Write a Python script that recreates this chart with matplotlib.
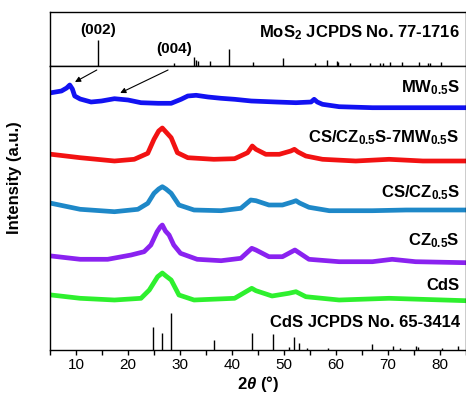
import numpy as np
import matplotlib
matplotlib.use("Agg")
from matplotlib import pyplot as plt
from matplotlib.ticker import MultipleLocator

plt.rcParams['font.family'] = ['Liberation Sans', 'DejaVu Sans']
plt.rcParams['mathtext.fontset'] = 'custom'
plt.rcParams['mathtext.rm'] = 'Liberation Sans:bold'
plt.rcParams['mathtext.bf'] = 'Liberation Sans:bold'
plt.rcParams['mathtext.it'] = 'Liberation Sans:bold:italic'

# XRD patterns (2theta in deg, stacked intensity in a.u.)
mw_x = [5.25, 7.2, 8.2, 8.8, 9.3, 9.75, 10.8, 12.9, 14.9, 17.4, 20, 22.5, 25.8, 28.3, 30.2, 31.5,
        33.1, 35.4, 37.9, 40.5, 43.7, 48.5, 52.3, 55.2, 55.8, 56.4, 57.4, 60.6, 67, 73.5, 79.8, 85]
mw_y = [257.3, 259, 262, 265, 261, 254, 251, 248, 249, 251.3, 250, 247.3, 246.7, 246.7, 250.7, 254,
        254.7, 253, 251.7, 250.7, 249, 248, 247.3, 248, 250.7, 248, 245.7, 243.3, 242.3, 242.3, 242.3, 242.3]

cs7_x = [5.25, 10.8, 17.4, 21.2, 23.8, 25, 25.9, 26.6, 27.3, 28.3, 29.5, 31.5, 36.5, 40.5, 43,
         43.9, 44.6, 46.5, 49.1, 51.3, 52, 52.7, 54.2, 57.4, 63.8, 70.2, 76.7, 85]
cs7_y = [195.7, 192.3, 189, 190.7, 196.7, 210.7, 219, 222, 218, 212.3, 197.3, 192.3, 190.7, 191.3, 197.3,
         204, 200.7, 195.7, 195.7, 199, 200.7, 198, 194, 190.7, 189, 190.7, 189, 189]

cs_x = [5.25, 10.8, 17.4, 21.9, 23.8, 25, 25.9, 26.6, 27.3, 28.3, 29.8, 32.7, 37.9, 41.7, 43.6,
        44.6, 47.1, 49.7, 51.6, 52.3, 53, 54.8, 58.7, 67, 73.5, 85]
cs_y = [146.7, 140.7, 138.3, 140.7, 146.7, 156.7, 161, 163.3, 161, 156.7, 145, 140, 139.3, 141.7, 150,
        149.3, 145, 145, 148, 149.3, 147, 142.7, 139.3, 139.3, 140, 140]

cz_x = [5.25, 10.8, 16.1, 20.6, 23.1, 24.4, 25.6, 26.2, 26.6, 27.2, 27.9, 28.8, 30.1, 33.3, 37.9,
        41.7, 43.8, 44.6, 47.1, 49.7, 52.1, 54.8, 60.6, 67, 70.8, 75.3, 85]
cz_y = [94, 90.7, 90.7, 95, 98.3, 105, 118.3, 123, 125, 119, 115, 105, 96.7, 90.7, 89.3,
        91.7, 101.7, 100, 93.3, 93.3, 100, 90.7, 88.3, 88.3, 90.7, 88.3, 87.3]

cds_x = [5.25, 10.8, 17.4, 22.5, 24.1, 25.7, 26.6, 27.3, 28.3, 29.8, 32.7, 40.5, 43.8, 44.6,
         47.7, 50.9, 52.3, 54.2, 60.6, 70.2, 85]
cds_y = [55, 51.7, 50, 51.7, 60, 73.3, 77, 74, 70, 55, 50, 51.7, 61.7, 59.3,
         54, 56.7, 58.3, 53.3, 50, 51.7, 49.3]

# reference stick patterns
mos2_pos = [14.2, 28.9, 32.6, 33.1, 33.5, 35.8, 39.4, 44.1, 49.9, 56, 58.2, 60.1, 60.4, 62.7,
            66.5, 68.5, 69, 70.3, 72.6, 76, 77.6, 78.1, 80.2]
mos2_int = [26, 3, 9, 6, 5, 5, 17, 4, 8, 3, 6, 5, 4, 3, 3, 3, 3, 4, 4, 4, 3, 3, 4]

cds_pos = [24.9, 26.5, 28.2, 36.5, 43.8, 47.8, 51, 51.9, 52.9, 54.4, 58.5, 66.9, 71, 72.3,
           75.4, 75.8, 80.3, 83.5]
cds_int = [23, 17, 37, 10, 17, 16, 3, 13, 7, 2, 2, 6, 4, 2, 4, 3, 2, 4]

series = [
    (mw_x, mw_y, '#1212f2', r'MW$_{0.5}$S', 258),
    (cs7_x, cs7_y, '#f21212', r'CS/CZ$_{0.5}$S-7MW$_{0.5}$S', 208),
    (cs_x, cs_y, '#1e88c8', r'CS/CZ$_{0.5}$S', 153),
    (cz_x, cz_y, '#8a22f0', r'CZ$_{0.5}$S', 105),
    (cds_x, cds_y, '#2ef02e', 'CdS', 60),
]

fig = plt.figure(figsize=(4.66, 4.04), dpi=100)
ax_top = fig.add_axes([50 / 466, 338 / 404, 416 / 466, 54 / 404])
ax = fig.add_axes([50 / 466, 54 / 404, 416 / 466, 284 / 404])

for a in (ax_top, ax):
    a.set_xlim(5, 85)
    for s in a.spines.values():
        s.set_linewidth(1.0)

# MoS2 reference
ax_top.set_ylim(0, 54)
ax_top.vlines(mos2_pos, 0, mos2_int, color='k', lw=1.0)
ax_top.set_xticks([])
ax_top.set_yticks([])
ax_top.text(83.8, 29, r'MoS$_{2}$ JCPDS No. 77-1716', ha='right', va='baseline',
            fontsize=12, fontweight='bold')
ax_top.text(14.2, 32, '(002)', ha='center', va='baseline', fontsize=11, fontweight='bold')
ax_top.text(28.9, 12.5, '(004)', ha='center', va='baseline', fontsize=11, fontweight='bold')

# patterns
ax.set_ylim(0, 284)
for x, y, c, lab, ty in series:
    ax.plot(x, y, color=c, lw=3.4, solid_joinstyle='round')
    ax.text(83.8, ty, lab, ha='right', va='baseline', fontsize=12, fontweight='bold')

ax.vlines(cds_pos, 0, cds_int, color='k', lw=1.0)
ax.text(83.8, 23, 'CdS JCPDS No. 65-3414', ha='right', va='baseline', fontsize=12, fontweight='bold')

arrow = dict(arrowstyle='-|>', lw=0.8, color='k', mutation_scale=8, shrinkA=0, shrinkB=0)
ax.annotate('', xy=(9.8, 268), xytext=(14.0, 280), arrowprops=arrow)
ax.annotate('', xy=(18.5, 257), xytext=(27.7, 280), arrowprops=arrow)

ax.set_yticks([])
ax.xaxis.set_major_locator(MultipleLocator(10))
ax.xaxis.set_minor_locator(MultipleLocator(5))
ax.tick_params(axis='x', which='both', direction='out', length=3.5, width=1.0, labelsize=11, pad=2)
ax.set_xlabel(r'2$\mathit{\theta}$ (°)', fontsize=12, fontweight='bold', labelpad=2)
fig.text(15 / 466, 1 - 178 / 404, 'Intensity (a.u.)', rotation=90, ha='center', va='center',
         fontsize=12, fontweight='bold')

fig.savefig('out.png', dpi=100)
